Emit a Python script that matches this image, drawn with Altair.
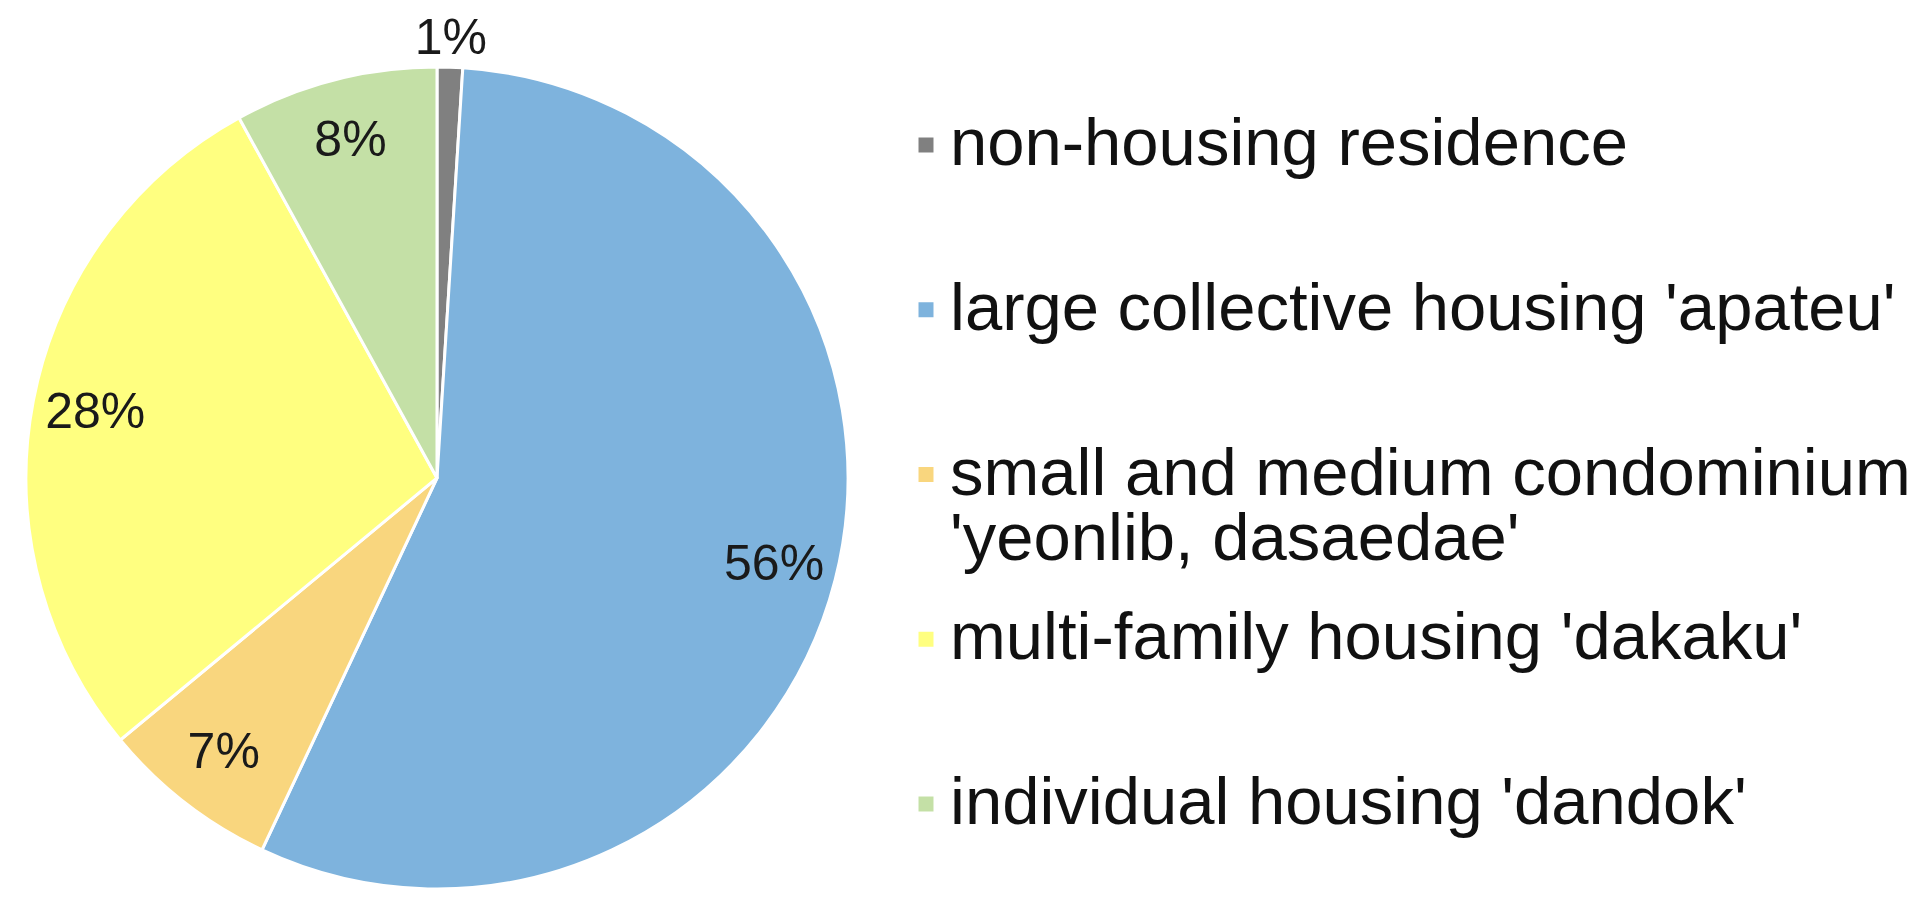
import altair as alt
import pandas as pd

categories = [
    "non-housing residence",
    "large collective housing 'apateu'",
    "small and medium condominium 'yeonlib, dasaedae'",
    "multi-family housing 'dakaku'",
    "individual housing 'dandok'",
]
legend_labels = [
    "non-housing residence",
    "large collective housing 'apateu'",
    "small and medium condominium\n'yeonlib, dasaedae'",
    "multi-family housing 'dakaku'",
    "individual housing 'dandok'",
]
shares = [1, 56, 7, 28, 8]
pct_labels = ["1%", "56%", "7%", "28%", "8%"]
colors = ["#808080", "#7EB3DD", "#F9D67E", "#FFFF80", "#C4E0A6"]

df = pd.DataFrame({
    "category": categories,
    "label": legend_labels,
    "share": shares,
    "pct": pct_labels,
    "idx": list(range(len(categories))),
})

FONT = "Liberation Sans"
CX, CY = 429, 470
R = 411

base = alt.Chart(df)
color = alt.Color("category:N", scale=alt.Scale(domain=categories, range=colors), legend=None)

pie = base.mark_arc(outerRadius=R, stroke="white", strokeWidth=3).encode(
    theta=alt.Theta("share:Q", stack=True),
    color=color,
    order=alt.Order("idx:Q"),
    x=alt.value(CX),
    y=alt.value(CY),
)

lab = base.transform_window(
    cum="sum(share)", sort=[alt.SortField("idx")], frame=[None, 0]
).transform_calculate(mid="datum.cum - datum.share / 2")

inner = lab.transform_filter("datum.share >= 2").mark_text(
    radius=348, fontSize=50, font=FONT, color="#1a1a1a"
).encode(theta=alt.Theta("mid:Q"), text="pct:N", x=alt.value(CX), y=alt.value(CY))

outer = lab.transform_filter("datum.share < 2").mark_text(
    radius=439, fontSize=50, font=FONT, color="#1a1a1a"
).encode(theta=alt.Theta("mid:Q"), text="pct:N", x=alt.value(CX), y=alt.value(CY))

ypos = alt.Y(
    "category:N", sort=categories, axis=None,
    scale=alt.Scale(type="point", range=[137, 796], padding=0),
)

squares = base.mark_square(size=225, opacity=1, filled=True).encode(
    x=alt.value(918), y=ypos, color=color
)

legend_text = base.mark_text(
    align="left", baseline="middle", fontSize=67, font=FONT,
    lineBreak="\n", lineHeight=65, dy=0, color="#111111",
).encode(x=alt.value(942), y=ypos, text="label:N")

chart = alt.layer(pie, inner, outer, squares, legend_text).properties(
    width=1914, height=903,
    autosize=alt.AutoSizeParams(type="none"),
    padding=0,
).configure_view(stroke=None)

chart.save("out.html", embed_options={"renderer": "svg", "actions": False})
